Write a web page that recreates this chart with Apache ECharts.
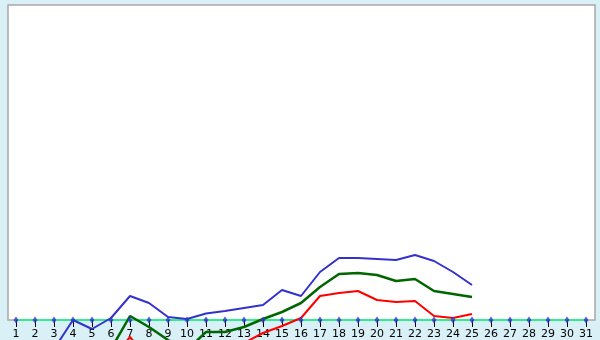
<!DOCTYPE html>
<html><head><meta charset="utf-8">
<script src="https://cdn.jsdelivr.net/npm/echarts@6/dist/echarts.min.js"></script>
<style>html,body{margin:0;padding:0;background:#d9f0f7}#c{width:600px;height:340px}</style>
</head><body><div id="c"></div>
<script>
const days = ['1','2','3','4','5','6','7','8','9','10','11','12','13','14','15','16','17','18','19','20','21','22','23','24','25','26','27','28','29','30','31'];
const blueVals  = [-5.0,-4.5,-2.9,0.0,-0.9,0.2,2.4,1.7,0.3,0.1,0.65,0.9,1.2,1.5,3.0,2.4,4.8,6.2,6.2,6.1,6.0,6.5,5.9,4.8,3.5];
const greenVals = [-7.0,-6.5,-5.5,-4.0,-4.5,-2.9,0.4,-0.7,-2.0,-3.0,-1.2,-1.2,-0.7,0.1,0.8,1.7,3.3,4.6,4.7,4.5,3.9,4.1,2.9,2.6,2.3];
const redVals   = [-6.0,-6.0,-6.0,-6.0,-6.0,-4.0,-1.7,-4.0,-5.0,-5.5,-5.0,-4.0,-2.3,-1.3,-0.6,0.2,2.4,2.7,2.9,2.0,1.8,1.9,0.4,0.2,0.6];
const yMin = 0, yMax = 31.5;

const chart = echarts.init(document.getElementById('c'), null, {renderer:'canvas'});
chart.setOption({
  animation: false,
  backgroundColor: '#d9f0f7',
  grid: [
    {left: 8, right: 5, top: 5, bottom: 20, show: true, backgroundColor: '#ffffff', borderColor: '#a8a8a8', borderWidth: 1.5},
    {left: 16, right: 14, top: 5, bottom: 20}
  ],
  xAxis: [
    {gridIndex: 0, type: 'value', show: false, min: 0, max: 1},
    {gridIndex: 1, type: 'category', data: days, boundaryGap: false,
     axisLine: {lineStyle: {color: '#00ff80', width: 1.5}},
     axisTick: {show: true, inside: false, length: 7, lineStyle: {color: '#000000', width: 1}},
     axisLabel: {color: '#000000', fontFamily: 'DejaVu Sans', fontSize: 11, margin: 9, interval: 0},
     splitLine: {show: false}}
  ],
  yAxis: [
    {gridIndex: 0, type: 'value', show: false, min: 0, max: 1},
    {gridIndex: 1, type: 'value', show: false, min: yMin, max: yMax}
  ],
  series: [
    {type: 'line', xAxisIndex: 1, yAxisIndex: 1, data: redVals, showSymbol: false, clip: false,
     lineStyle: {color: '#ff0000', width: 2}, z: 3},
    {type: 'line', xAxisIndex: 1, yAxisIndex: 1, data: greenVals, showSymbol: false, clip: false,
     lineStyle: {color: '#006600', width: 2.5}, z: 4},
    {type: 'line', xAxisIndex: 1, yAxisIndex: 1, data: blueVals, showSymbol: false, clip: false,
     lineStyle: {color: '#3333cc', width: 2}, z: 5},
    {type: 'scatter', xAxisIndex: 1, yAxisIndex: 1, data: days.map(() => 0), clip: false,
     symbol: 'diamond', symbolSize: [5, 7], itemStyle: {color: '#3333cc'}, z: 6}
  ]
});
</script></body></html>
